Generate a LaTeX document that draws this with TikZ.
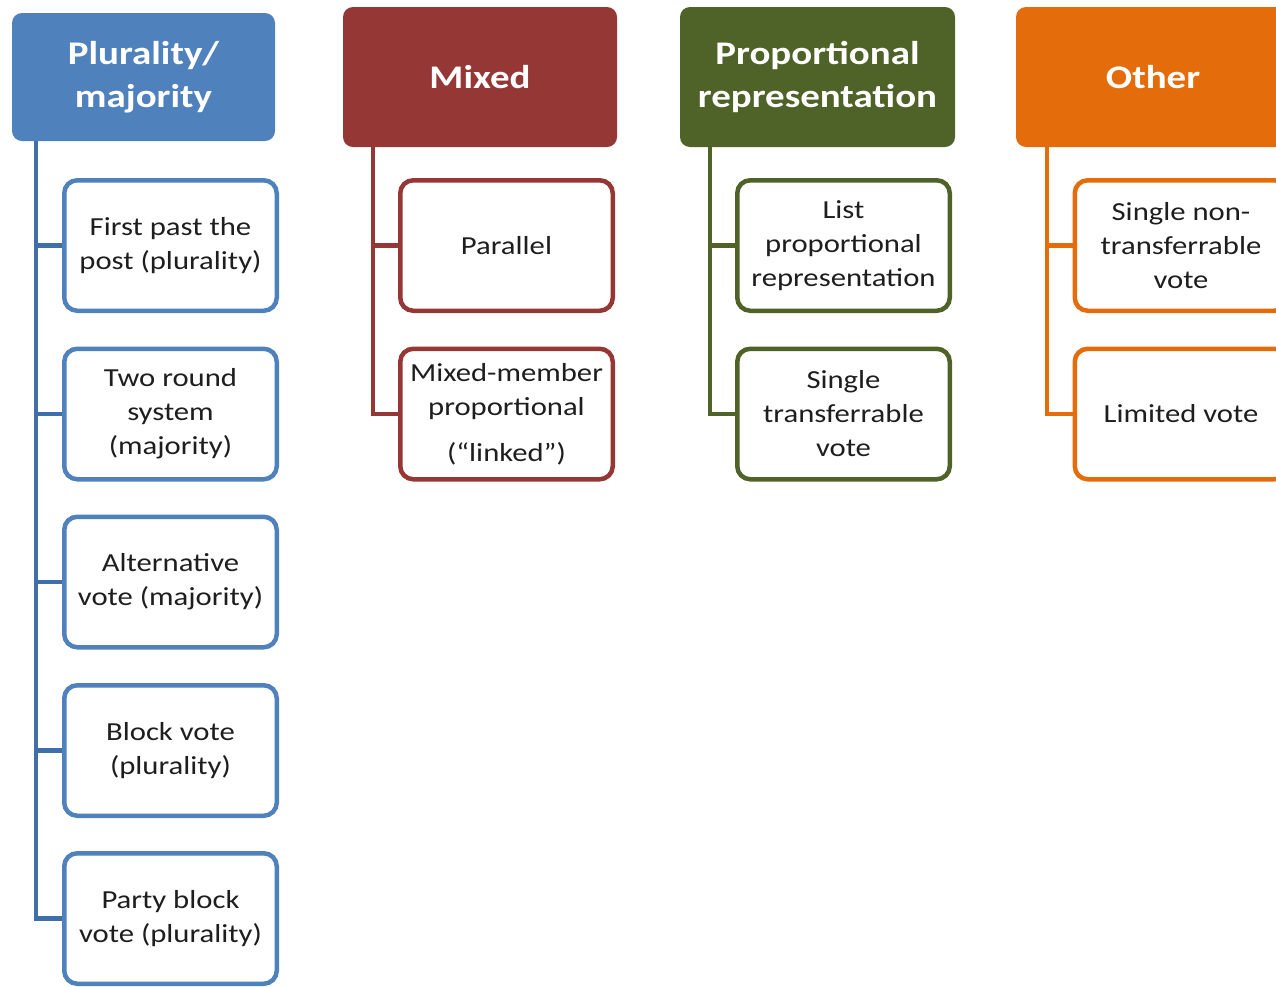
\documentclass[tikz,border=0pt]{standalone}
\usepackage{fontspec}
\setmainfont{Carlito}[FakeStretch=1.18]
\definecolor{plblue}{HTML}{4F81BD}
\definecolor{plbluedk}{HTML}{3E6FA9}
\definecolor{mxred}{HTML}{953735}
\definecolor{prgreen}{HTML}{4F6228}
\definecolor{otorange}{HTML}{E46C0A}
\definecolor{txt}{HTML}{1E1E1E}
\begin{document}
\begin{tikzpicture}[x=1pt,y=-1pt,
  head/.style={fill=#1, draw=none, rounded corners=10pt, text=white,
    font=\fontsize{33}{43}\selectfont\bfseries, align=center, inner sep=0pt},
  child/.style={draw=#1, line width=4.5pt, fill=white, rounded corners=13pt,
    minimum width=212.5pt, minimum height=130.5pt, inner sep=0pt,
    align=center, text=txt, font=\fontsize{26}{34}\selectfont},
  conn/.style={draw=#1, line width=4.5pt}]
\useasboundingbox (0,0) rectangle (1276,986);
\clip (0,0) rectangle (1276,986);

% column headers
\node[head=plblue, minimum width=263pt, minimum height=128pt] (h1) at (143.5,77) {Plurality/\\majority};
\node[head=mxred, minimum width=274pt, minimum height=140pt] (h2) at (480,77) {Mixed};
\node[head=prgreen, minimum width=275pt, minimum height=140pt] (h3) at (817.5,77) {Proportional\\representation};
\node[head=otorange, minimum width=274pt, minimum height=140pt] (h4) at (1153,77) {Other};

% plurality / majority systems
\node[child=plblue] (b1) at (170.5,245.5) {First past the\\post (plurality)};
\node[child=plblue] (b2) at (170.5,414) {Two round\\system\\(majority)};
\node[child=plblue] (b3) at (170.5,582) {Alternative\\vote (majority)};
\node[child=plblue] (b4) at (170.5,750.5) {Block vote\\(plurality)};
\node[child=plblue] (b5) at (170.5,918.5) {Party block\\vote (plurality)};

% mixed systems
\node[child=mxred] (r1) at (506.5,245.5) {Parallel};
\node[child=mxred] (r2) at (506.5,414) {Mixed-member\\proportional\\[12pt](“linked”)};

% proportional representation systems
\node[child=prgreen] (g1) at (843.5,245.5) {List\\proportional\\representation};
\node[child=prgreen] (g2) at (843.5,414) {Single\\transferrable\\vote};

% other systems
\node[child=otorange] (o1) at (1181,245.5) {Single non-\\transferrable\\vote};
\node[child=otorange] (o2) at (1181,414) {Limited vote};

% tree connectors
\coordinate (s1) at ([xshift=24pt]h1.south west);
\coordinate (s2) at ([xshift=30pt]h2.south west);
\coordinate (s3) at ([xshift=30pt]h3.south west);
\coordinate (s4) at ([xshift=31pt]h4.south west);

\draw[conn=plbluedk] (s1) |- (b5.west);
\foreach \b in {b1,b2,b3,b4} \draw[conn=plbluedk] (s1 |- \b.west) -- (\b.west);
\draw[conn=mxred] (s2) |- (r2.west);
\draw[conn=mxred] (s2 |- r1.west) -- (r1.west);
\draw[conn=prgreen] (s3) |- (g2.west);
\draw[conn=prgreen] (s3 |- g1.west) -- (g1.west);
\draw[conn=otorange] (s4) |- (o2.west);
\draw[conn=otorange] (s4 |- o1.west) -- (o1.west);
\end{tikzpicture}
\end{document}
